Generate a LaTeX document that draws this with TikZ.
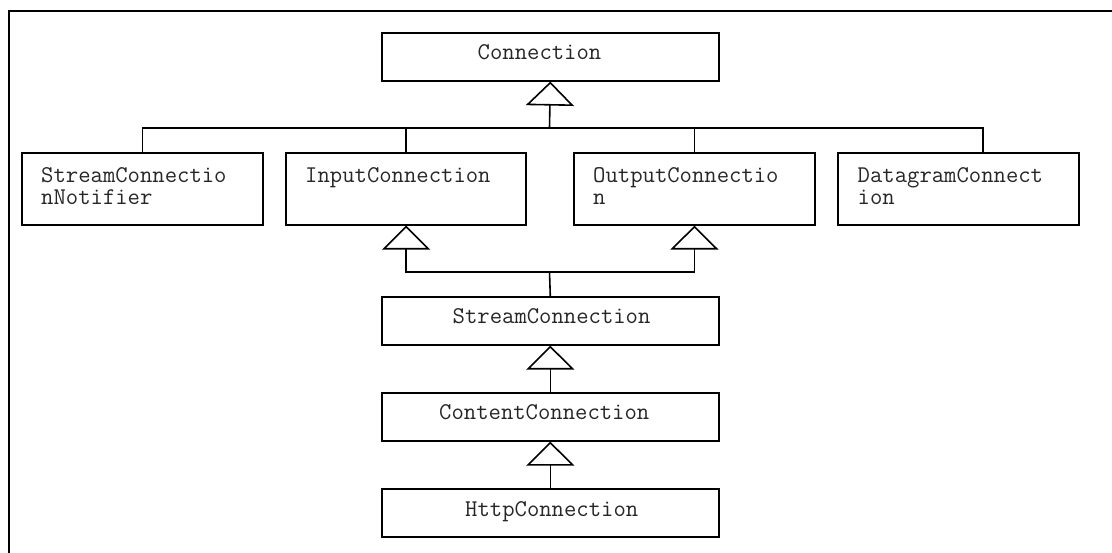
\documentclass[tikz,border=0pt]{standalone}
\usepackage{fontspec}
\usetikzlibrary{arrows.meta}
\begin{document}
\begin{tikzpicture}[x=1pt,y=-1pt,
  ln/.style={line width=1.6pt,black},
  box/.style={draw,line width=1.6pt,inner sep=0pt,anchor=north west},
  lbl/.style={inner sep=0pt,anchor=base west,align=left,font=\ttfamily\fontsize{24}{22}\selectfont,text=black!85},
  inh/.style={ln,-{Triangle[open,length=24pt,width=48pt,line width=1.6pt]}}]
\useasboundingbox (0,0) rectangle (1112,553);
\draw[ln] (8.7,570) -- (8.7,11.3) -- (1130,11.3);
% boxes
\node[box,minimum width=337pt,minimum height=48pt] (conn) at (381,32) {};
\node[box,minimum width=241pt,minimum height=72pt] (scn) at (21,152) {};
\node[box,minimum width=240pt,minimum height=72pt] (inc) at (285.3,152) {};
\node[box,minimum width=240.7pt,minimum height=72pt] (outc) at (573.3,152) {};
\node[box,minimum width=240.7pt,minimum height=72pt] (dgc) at (837.3,152) {};
\node[box,minimum width=337pt,minimum height=48pt] (sc) at (381,296) {};
\node[box,minimum width=337pt,minimum height=48pt] (cc) at (381,392) {};
\node[box,minimum width=337pt,minimum height=48pt] (hc) at (381,488) {};
% labels
\node[lbl] (tconn) at (477.5,59.5) {Connection};
\node[lbl] (tscn) at (41,204.3) {StreamConnectio\\nNotifier};
\node[lbl] (tinc) at (305,182.3) {InputConnection};
\node[lbl] (toutc) at (593,204.3) {OutputConnectio\\n};
\node[lbl] (tdgc) at (857.5,204.3) {DatagramConnect\\ion};
\node[lbl] (tsc) at (452.5,324) {StreamConnection};
\node[lbl] (tcc) at (439,420) {ContentConnection};
\node[lbl] (thc) at (465,516) {HttpConnection};
% connectors
\coordinate (b1) at (549.5,128);
\coordinate (b2) at (549.5,272);
\draw[inh] (b1) -- (conn.south);
\draw[ln] (scn.north) |- (b1) -| ([xshift=24.3pt]dgc.north);
\draw[ln] (inc.north) -- (inc.north |- b1);
\draw[ln] (outc.north) -- (outc.north |- b1);
\draw[ln] (sc.north) -- (b2);
\draw[inh] (b2) -| (inc.south);
\draw[inh] (b2) -| (outc.south);
\draw[inh] (cc.north) -- (sc.south);
\draw[inh] (hc.north) -- (cc.south);
\end{tikzpicture}
\end{document}
